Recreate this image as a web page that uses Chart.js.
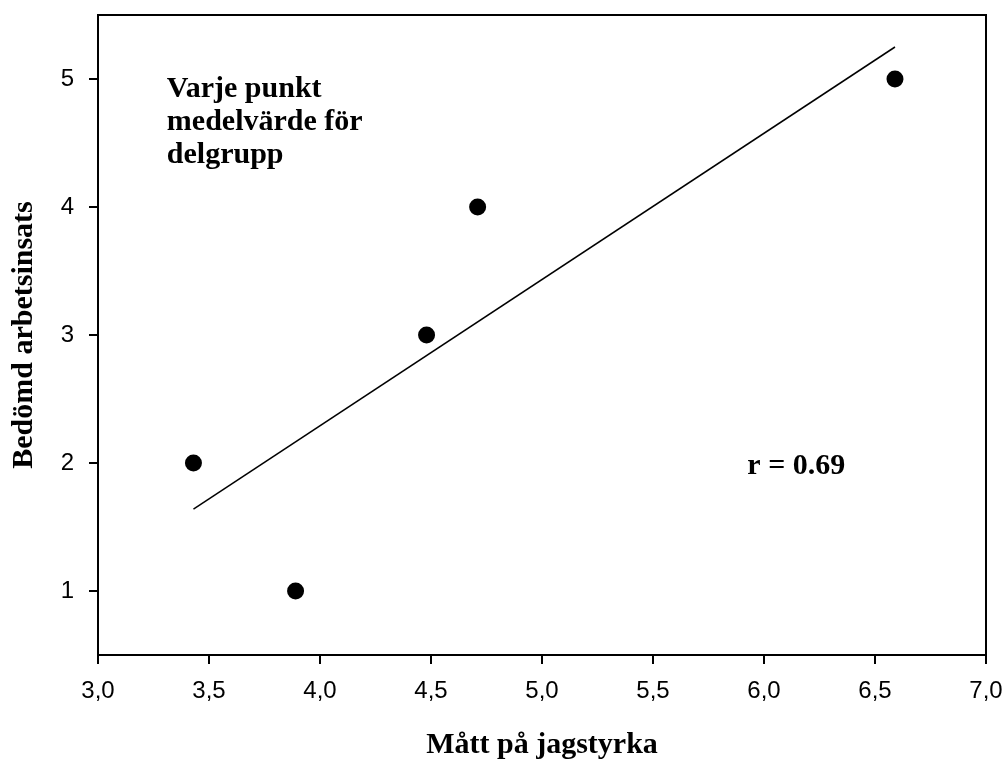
<!DOCTYPE html>
<html>
<head>
<meta charset="utf-8">
<script src="https://cdn.jsdelivr.net/npm/chart.js@4"></script>
<style>
  html, body { margin: 0; padding: 0; background: #fff; }
  #wrap { width: 1005px; height: 760px; }
</style>
</head>
<body>
<div id="wrap"><canvas id="chart" width="1005" height="760"></canvas></div>
<script>
// group means: ego strength vs rated work effort
var jagstyrka = [3.43, 3.89, 4.48, 4.71, 6.59];
var arbetsinsats = [2, 1, 3, 4, 5];

// fitted regression line endpoints
var fitX = [3.43, 6.59];
var fitY = [1.64, 5.25];

var xTicks = [3.0, 3.5, 4.0, 4.5, 5.0, 5.5, 6.0, 6.5, 7.0];
var yTicks = [1, 2, 3, 4, 5];

var noteLines = ["Varje punkt", "medelvärde för", "delgrupp"];
var rText = "r = 0.69";

function toPoints(xs, ys) {
    var pts = [];
    for (var i = 0; i < xs.length; i++) pts.push({ x: xs[i], y: ys[i] });
    return pts;
}

var serif = "'Liberation Serif', 'Times New Roman', serif";
var sans = "'Liberation Sans', Arial, sans-serif";

// box around the plot and the two text notes
var extras = {
    id: "extras",
    afterDraw: function (chart) {
        var ctx = chart.ctx;
        var a = chart.chartArea;
        var xs = chart.scales.x, ys = chart.scales.y;
        ctx.save();
        ctx.strokeStyle = "#000";
        ctx.lineWidth = 2;
        ctx.beginPath();
        ctx.moveTo(a.left, a.top);
        ctx.lineTo(a.right, a.top);
        ctx.lineTo(a.right, a.bottom);
        ctx.stroke();

        ctx.fillStyle = "#000";
        ctx.font = "bold 30px " + serif;
        ctx.textBaseline = "alphabetic";
        ctx.textAlign = "left";
        var nx = xs.getPixelForValue(3.31);
        var ny = ys.getPixelForValue(4.86);
        noteLines.forEach(function (t, i) {
            ctx.fillText(t, nx, ny + i * 33);
        });
        ctx.fillText(rText, xs.getPixelForValue(5.925), ys.getPixelForValue(1.916));
        ctx.restore();
    }
};

new Chart(document.getElementById("chart"), {
    type: "scatter",
    data: {
        datasets: [
            {
                type: "line",
                data: toPoints(fitX, fitY),
                borderColor: "#000",
                borderWidth: 1.5,
                pointRadius: 0,
                fill: false
            },
            {
                data: toPoints(jagstyrka, arbetsinsats),
                backgroundColor: "#000",
                borderWidth: 0,
                pointRadius: 8.5
            }
        ]
    },
    options: {
        responsive: false,
        animation: false,
        layout: { padding: { top: 15, right: 19, left: 0, bottom: 0 } },
        plugins: {
            legend: { display: false },
            tooltip: { enabled: false }
        },
        scales: {
            x: {
                type: "linear",
                min: 3.0,
                max: 7.0,
                afterBuildTicks: function (s) {
                    s.ticks = xTicks.map(function (v) { return { value: v }; });
                },
                afterFit: function (s) {
                    s.height = 105;
                    s.paddingLeft = 0;
                    s.paddingRight = 0;
                },
                grid: { drawOnChartArea: false, color: "#000", lineWidth: 2, tickLength: 9 },
                border: { color: "#000", width: 2 },
                ticks: {
                    color: "#000",
                    padding: 13,
                    maxRotation: 0,
                    font: { family: sans, size: 24 },
                    callback: function (v) { return v.toFixed(1).replace(".", ","); }
                },
                title: {
                    display: true,
                    text: "Mått på jagstyrka",
                    color: "#000",
                    padding: { top: 0, bottom: 0 },
                    font: { family: serif, size: 30, weight: "bold", lineHeight: 1 }
                }
            },
            y: {
                type: "linear",
                min: 0.5,
                max: 5.5,
                afterBuildTicks: function (s) {
                    s.ticks = yTicks.map(function (v) { return { value: v }; });
                },
                afterFit: function (s) {
                    s.width = 98;
                    s.paddingTop = 0;
                    s.paddingBottom = 0;
                },
                grid: { drawOnChartArea: false, color: "#000", lineWidth: 2, tickLength: 9 },
                border: { color: "#000", width: 2 },
                ticks: {
                    color: "#000",
                    padding: 15,
                    font: { family: sans, size: 24 },
                    callback: function (v) { return String(v); }
                },
                title: {
                    display: true,
                    text: "Bedömd arbetsinsats",
                    color: "#000",
                    padding: { top: 9, bottom: 0 },
                    font: { family: serif, size: 30, weight: "bold", lineHeight: 1 }
                }
            }
        }
    },
    plugins: [extras]
});
</script>
</body>
</html>
